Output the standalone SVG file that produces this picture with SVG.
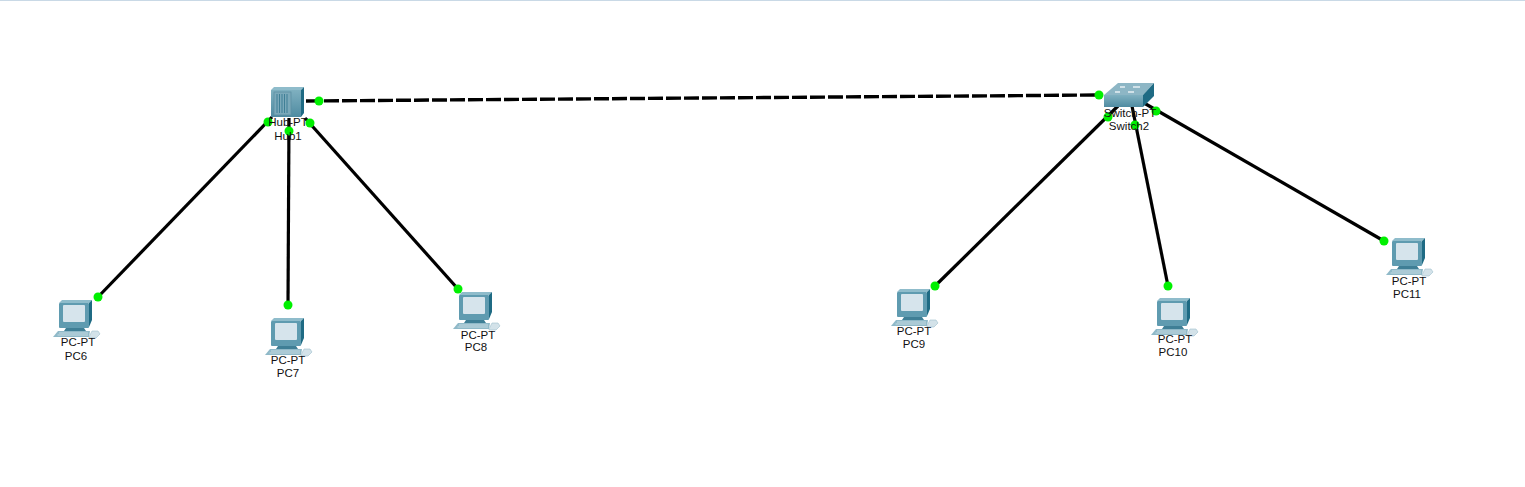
<svg xmlns="http://www.w3.org/2000/svg" width="1525" height="487" viewBox="0 0 1525 487">
<style>
.bg{fill:#ffffff}
.link{stroke:#000;stroke-width:3.200;fill:none}
.dash{stroke-dasharray:15 3;stroke-width:3.400}
.dot{fill:#00f000}
text{font-family:"Liberation Sans",Arial,sans-serif;font-size:11.5px;fill:#111;text-anchor:middle}
</style>
<defs>
<linearGradient id="front" x1="0" y1="0" x2="0" y2="1"><stop offset="0" stop-color="#7fb0c0"/><stop offset="1" stop-color="#4f8ba1"/></linearGradient>
<g id="pc">
<path d="M0 3 L3 0 H33 L30 3 Z" fill="#8fbccb"/>
<path d="M30 3 L33 0 V20 L30 27 Z" fill="#1f6b84"/>
<rect x="0" y="3" width="30" height="25" rx="1" fill="#5f9bb0"/>
<rect x="4" y="5" width="22" height="17" rx="1" fill="#d6e4ec"/>
<path d="M7 28 H25 L27 31 H5 Z" fill="#3f7f96"/>
<path d="M-6 37 L-1 31 H31 L30 37 Z" fill="#8fb9c8"/>
<path d="M0 33 H29 M-1.500 35 H29" stroke="#d4e3ea" stroke-width=".8"/>
<path d="M30 37 L33 31 H39 L41 34 L37 38 H30 Z" fill="#d3e2e9" stroke="#9dbfcc" stroke-width=".6"/>
</g>
</defs>
<rect class="bg" width="1525" height="487"/>
<rect x="0" y="0" width="1525" height="1" fill="#c9d9e6"/>
<g id="connectors">
<path class="link dash" d="M306 101 L1100 95"/>
<path class="link" d="M272 117 L98 297"/>
<path class="link" d="M289 118 L288 305"/>
<path class="link" d="M305 118 L458 289"/>
<path class="link" d="M1118 106 L935 286"/>
<path class="link" d="M1132 106 L1168 286"/>
<path class="link" d="M1144 103 L1384 241"/>
<g class="dot">
<circle cx="319" cy="101" r="4.500"/><circle cx="1099" cy="95" r="4.500"/>
<circle cx="268" cy="122" r="4.500"/><circle cx="289" cy="131" r="4.500"/><circle cx="310" cy="123" r="4.500"/>
<circle cx="98" cy="297" r="4.500"/><circle cx="288" cy="305" r="4.500"/><circle cx="458" cy="289" r="4.500"/>
<circle cx="1108" cy="117" r="4.500"/><circle cx="1135" cy="125" r="4.500"/><circle cx="1156" cy="111" r="4.500"/>
<circle cx="935" cy="286" r="4.500"/><circle cx="1168" cy="286" r="4.500"/><circle cx="1384" cy="241" r="4.500"/>
</g>
</g>
<g id="hub1">
<path d="M271 90 L274 87 H304 L301 90 Z" fill="#8fbccb"/>
<path d="M301 90 L304 87 V113 L301 117 Z" fill="#1f6b84"/>
<rect x="271" y="90" width="30" height="27" fill="url(#front)"/>
<rect x="274" y="92" width="17" height="23" fill="#7ba9ba" stroke="#5d90a4" stroke-width=".8"/>
<path d="M277 94 V113 M279.500 94 V113 M282 94 V113 M284.500 94 V113 M287 94 V113" stroke="#3f7f96" stroke-width="1"/>
<text x="288" y="126">Hub-PT</text><text x="288" y="140">Hub1</text>
</g>
<g id="switch2">
<path d="M1104 95 L1118 83 H1154 L1143 95 Z" fill="#8db6c5"/>
<path d="M1143 95 L1154 83 V96 L1143 107 Z" fill="#1f6b84"/>
<rect x="1104" y="95" width="39" height="12" fill="url(#front)"/>
<path d="M1120 87 H1125 M1133 87 H1140 M1115 92 H1120 M1128 92 H1134" stroke="#e6eff3" stroke-width="1.500"/>
<text x="1130" y="117">Switch-PT</text><text x="1129" y="130">Switch2</text>
</g>
<g id="pc6"><use href="#pc" x="59" y="300"/><text x="78" y="346">PC-PT</text><text x="76" y="360">PC6</text></g>
<g id="pc7"><use href="#pc" x="271" y="318"/><text x="288" y="364">PC-PT</text><text x="288" y="377">PC7</text></g>
<g id="pc8"><use href="#pc" x="459" y="292"/><text x="478" y="339">PC-PT</text><text x="476" y="351">PC8</text></g>
<g id="pc9"><use href="#pc" x="897" y="289"/><text x="914" y="335">PC-PT</text><text x="914" y="348">PC9</text></g>
<g id="pc10"><use href="#pc" x="1157" y="298"/><text x="1175" y="343">PC-PT</text><text x="1173" y="356">PC10</text></g>
<g id="pc11"><use href="#pc" x="1392" y="238"/><text x="1409" y="285">PC-PT</text><text x="1407" y="298">PC11</text></g>
</svg>
